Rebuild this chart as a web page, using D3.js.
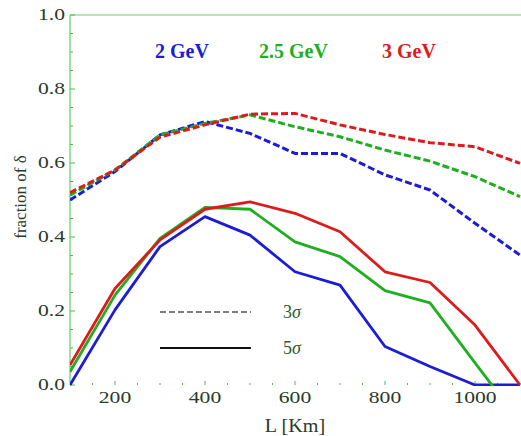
<!DOCTYPE html>
<html>
<head>
<meta charset="utf-8">
<script src="https://cdn.jsdelivr.net/npm/d3@7"></script>
<style>
  body { margin: 0; background: #fff; }
  svg { display: block; font-family: "Liberation Serif", "DejaVu Serif", serif; }
</style>
</head>
<body>
<svg id="chart" width="521" height="436"></svg>
<script>
// Baseline L values (km)
const baselines = [100, 200, 300, 400, 500, 600, 700, 800, 900, 1000, 1100];

// 3 sigma curves (dashed)
const blue3s = [0.50, 0.577, 0.676, 0.712, 0.68, 0.626, 0.626, 0.568, 0.527, 0.437, 0.351];
const green3s = [0.513, 0.581, 0.676, 0.707, 0.73, 0.698, 0.671, 0.635, 0.605, 0.563, 0.509];
const red3s = [0.52, 0.581, 0.67, 0.703, 0.732, 0.734, 0.703, 0.677, 0.655, 0.644, 0.599];

// 5 sigma curves (solid)
const blue5s = [0.0, 0.203, 0.374, 0.455, 0.405, 0.306, 0.27, 0.104, 0.05, 0.0, 0.0];
const green5s = [0.036, 0.243, 0.396, 0.48, 0.475, 0.387, 0.347, 0.255, 0.222, 0.06, -0.1];
const red5s = [0.054, 0.261, 0.392, 0.475, 0.495, 0.464, 0.414, 0.306, 0.277, 0.162, 0.0];

const energies = ["2 GeV", "2.5 GeV", "3 GeV"];
const yTickLabels = [0, 0.2, 0.4, 0.6, 0.8, 1.0];
const xTickLabels = [200, 400, 600, 800, 1000];

const colors = { blue: "#1c1cd2", green: "#1fae1f", red: "#dc1c1c" };
const labelColor = "#2a3a2a";
const axisGreen = "#46c046";

const svg = d3.select("#chart");

const x = d3.scaleLinear().domain([100, 1100]).range([70, 520]);
const y = d3.scaleLinear().domain([0, 1]).range([385, 15]);

// clip the curves to the plot frame
svg.append("defs")
  .append("clipPath")
  .attr("id", "plot-clip")
  .append("rect")
  .attr("x", x(100))
  .attr("y", y(1))
  .attr("width", x(1100) - x(100) + 2)
  .attr("height", y(0) - y(1) + 1);

// Frame: left and top lines
svg.append("line")
  .attr("x1", x(100)).attr("x2", x(100))
  .attr("y1", y(0)).attr("y2", y(1))
  .attr("stroke", axisGreen)
  .attr("stroke-width", 1);

svg.append("line")
  .attr("x1", x(100)).attr("x2", 521)
  .attr("y1", y(1)).attr("y2", y(1))
  .attr("stroke", "#9edc9e")
  .attr("stroke-width", 1.5);

// Y ticks (major every 0.2, minor every 0.05), pointing inward
const yTicks = d3.range(0, 1.0001, 0.05);
svg.append("g")
  .selectAll("line")
  .data(yTicks)
  .enter()
  .append("line")
  .attr("x1", x(100))
  .attr("x2", (d) => x(100) + (Math.abs(d * 5 - Math.round(d * 5)) < 1e-6 ? 5 : 3))
  .attr("y1", (d) => y(d))
  .attr("y2", (d) => y(d))
  .attr("stroke", axisGreen)
  .attr("stroke-width", 1);

// X ticks (major every 200, minor every 50), pointing up from the bottom
const xTicks = d3.range(150, 1100, 50);
svg.append("g")
  .selectAll("line")
  .data(xTicks)
  .enter()
  .append("line")
  .attr("x1", (d) => x(d))
  .attr("x2", (d) => x(d))
  .attr("y1", y(0))
  .attr("y2", (d) => y(0) - (d % 200 === 0 ? 4 : 2))
  .attr("stroke", axisGreen)
  .attr("stroke-width", 1);

// Tick labels, horizontally stretched like the original
svg.append("g")
  .selectAll("text")
  .data(yTickLabels)
  .enter()
  .append("text")
  .attr("transform", (d) => `translate(65,${y(d) + 5}) scale(1.35,1)`)
  .attr("text-anchor", "end")
  .style("font-size", "16px")
  .style("fill", labelColor)
  .text((d) => d.toFixed(1));

svg.append("g")
  .selectAll("text")
  .data(xTickLabels)
  .enter()
  .append("text")
  .attr("transform", (d) => `translate(${x(d)},${403}) scale(1.35,1)`)
  .attr("text-anchor", "middle")
  .style("font-size", "16px")
  .style("fill", labelColor)
  .text((d) => d);

// Axis titles
svg.append("text")
  .attr("transform", `translate(${x(600)},${432}) scale(1.12,1)`)
  .attr("text-anchor", "middle")
  .style("font-size", "18px")
  .style("fill", labelColor)
  .text("L [Km]");

svg.append("text")
  .attr("transform", "translate(26,197) rotate(-90)")
  .attr("text-anchor", "middle")
  .style("font-size", "17px")
  .style("fill", labelColor)
  .text("fraction of δ");

// Curves
const line = d3.line()
  .x((d, i) => x(baselines[i]))
  .y((d) => y(d));

const curves = [
  { values: blue3s, color: colors.blue, dashed: true },
  { values: green3s, color: colors.green, dashed: true },
  { values: red3s, color: colors.red, dashed: true },
  { values: blue5s, color: colors.blue, dashed: false },
  { values: green5s, color: colors.green, dashed: false },
  { values: red5s, color: colors.red, dashed: false },
];

const curveGroup = svg.append("g").attr("clip-path", "url(#plot-clip)");

curveGroup.selectAll("path")
  .data(curves)
  .enter()
  .append("path")
  .attr("d", (d) => line(d.values))
  .attr("fill", "none")
  .attr("stroke", (d) => d.color)
  .attr("stroke-width", (d) => (d.dashed ? 3 : 2.8))
  .attr("stroke-dasharray", (d) => (d.dashed ? "7,3" : null))
  .attr("stroke-linejoin", "round");

// Energy labels
const energyX = [155, 259, 382];
const energyColors = [colors.blue, colors.green, colors.red];
svg.append("g")
  .selectAll("text")
  .data(energies)
  .enter()
  .append("text")
  .attr("x", (d, i) => energyX[i])
  .attr("y", 58)
  .style("font-size", "20px")
  .style("font-weight", "bold")
  .style("fill", (d, i) => energyColors[i])
  .text((d) => d);

// Line style legend
const styleLegend = [
  { label: "3", dash: "6,3", color: "#555", y: 312 },
  { label: "5", dash: null, color: "#111", y: 348 },
];

const legendItems = svg.append("g")
  .selectAll("g")
  .data(styleLegend)
  .enter()
  .append("g");

legendItems.append("line")
  .attr("x1", 160)
  .attr("x2", 251)
  .attr("y1", (d) => d.y)
  .attr("y2", (d) => d.y)
  .attr("stroke", (d) => d.color)
  .attr("stroke-width", (d) => (d.dash ? 1.5 : 2))
  .attr("stroke-dasharray", (d) => d.dash);

const legendText = legendItems.append("text")
  .attr("x", 283)
  .attr("y", (d) => d.y + 6)
  .style("font-size", "18px")
  .style("fill", "#2f5a2f");

legendText.append("tspan").text((d) => d.label);
legendText.append("tspan").style("font-style", "italic").text("σ");
</script>
</body>
</html>
